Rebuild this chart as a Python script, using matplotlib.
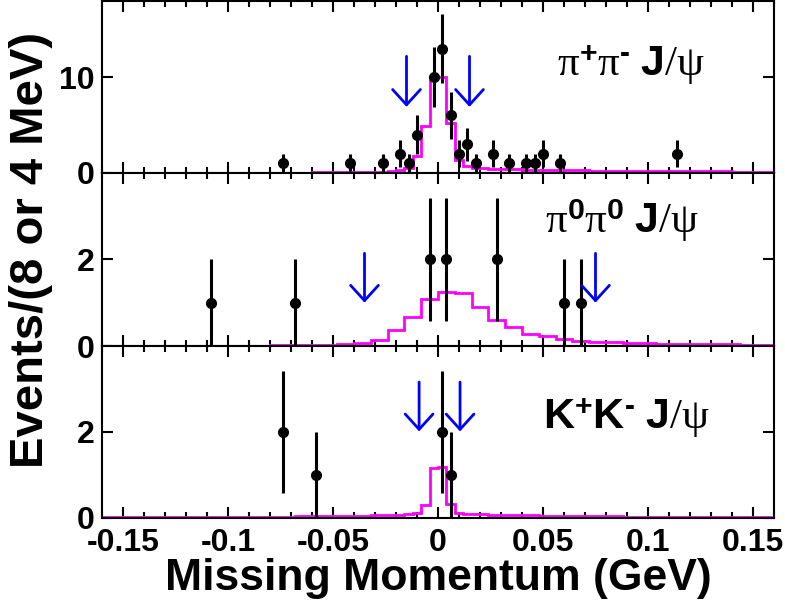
import numpy as np
import matplotlib
matplotlib.use("Agg")
import matplotlib.pyplot as plt
from matplotlib.ticker import MultipleLocator, FixedLocator, FixedFormatter

plt.rcParams['font.family'] = ['Liberation Sans', 'DejaVu Sans']
plt.rcParams['axes.unicode_minus'] = False
plt.rcParams['mathtext.fontset'] = 'custom'
plt.rcParams['mathtext.rm'] = 'Liberation Serif'
plt.rcParams['mathtext.it'] = 'Liberation Serif:italic'
plt.rcParams['mathtext.bf'] = 'Liberation Sans:bold'

# ---------------- data ----------------
x_ticks = [-0.15, -0.1, -0.05, 0, 0.05, 0.1, 0.15]
x_tick_labels = ["-0.15", "-0.1", "-0.05", "0", "0.05", "0.1", "0.15"]

# pi+ pi- J/psi (4 MeV bins)
pp_x = [-0.074, -0.042, -0.026, -0.018, -0.014, -0.010, -0.002, 0.002, 0.006, 0.010,
        0.014, 0.018, 0.026, 0.034, 0.042, 0.046, 0.050, 0.058, 0.114]
pp_y = [1, 1, 1, 2, 1, 4, 10, 13, 6, 2, 3, 1, 2, 1, 1, 1, 2, 1, 2]
pp_mc = [0, 0, 0, 0, 0, 0, 0, 0, 0, 0, 0, 0, 0, 0, 0,
         0.01, 0.01, 0.01, 0.01, 0.01, 0.01, 0.02, 0.02, 0.02, 0.02,
         0.03, 0.03, 0.04, 0.04, 0.05,
         0.06, 0.07, 0.08, 0.10, 0.15,
         0.25, 0.45, 1.7, 4.9, 10.0, 10.0, 5.2, 1.3, 0.7, 0.5,
         0.45, 0.42, 0.39, 0.36, 0.34, 0.32, 0.30, 0.29, 0.28, 0.27, 0.26, 0.25, 0.24, 0.23, 0.22,
         0.21, 0.20, 0.19, 0.19, 0.18, 0.17, 0.17, 0.16, 0.16, 0.15, 0.15, 0.14, 0.14, 0.13,
         0.13, 0.12, 0.12, 0.11, 0.11, 0.10]
pp_cut = [-0.015, 0.015]
pp_arrow_top, pp_arrow_tip = 12.2, 6.9

# pi0 pi0 J/psi (8 MeV bins)
p0_x = [-0.108, -0.068, -0.004, 0.004, 0.028, 0.060, 0.068]
p0_y = [1, 1, 2, 2, 2, 1, 1]
p0_mc = [0, 0, 0, 0, 0, 0, 0,
         0.005, 0.01, 0.01, 0.015, 0.02, 0.02, 0.03, 0.04,
         0.06, 0.15, 0.38, 0.67, 1.09, 1.24, 1.22, 0.91, 0.60, 0.44, 0.28, 0.23, 0.16,
         0.125, 0.09, 0.085, 0.07, 0.06, 0.055, 0.05, 0.045, 0.04, 0.035, 0.03, 0.03]
p0_cut = [-0.035, 0.075]
p0_arrow_top, p0_arrow_tip = 2.14, 1.0

# K+ K- J/psi (4 MeV bins)
kk_x = [-0.074, -0.058, 0.002, 0.006]
kk_y = [2, 1, 2, 1]
kk_mc = [0.005, 0.005, 0.005, 0.005, 0.005, 0.005, 0.005, 0.005, 0.005, 0.005, 0.005, 0.005, 0.005, 0.005, 0.005,
         0.01, 0.01, 0.015, 0.015, 0.02, 0.02, 0.025, 0.025, 0.03, 0.03,
         0.035, 0.035, 0.04, 0.04, 0.045,
         0.05, 0.05, 0.055, 0.06, 0.06,
         0.07, 0.08, 0.10, 0.30, 1.15, 1.18, 0.33, 0.12, 0.09, 0.08,
         0.075, 0.07, 0.07, 0.065, 0.06, 0.06, 0.055, 0.05, 0.05, 0.045, 0.04, 0.04, 0.035, 0.035, 0.03,
         0.03, 0.03, 0.025, 0.025, 0.02, 0.02, 0.02, 0.015, 0.015, 0.015,
         0.01, 0.01, 0.01, 0.01, 0.01, 0.005, 0.005, 0.005, 0.005, 0.005]
kk_cut = [-0.009, 0.0105]
kk_arrow_top, kk_arrow_tip = 3.16, 2.01

HY = "\u2010"  # short hyphen used as superscript minus
panels = [
    dict(x=pp_x, y=pp_y, mc=pp_mc, bw=0.004, ymax=18, yt=[0, 10], cut=pp_cut,
         atop=pp_arrow_top, atip=pp_arrow_tip,
         label=r"$\mathrm{\pi}^{\mathbf{+}}\mathrm{\pi}^{\mathbf{" + HY + r"}}\ \mathbf{J}\mathrm{/\psi}$",
         lx=0.677, ly=0.563),
    dict(x=p0_x, y=p0_y, mc=p0_mc, bw=0.008, ymax=4, yt=[0, 2], cut=p0_cut,
         atop=p0_arrow_top, atip=p0_arrow_tip,
         label=r"$\mathrm{\pi}^{\mathbf{0}}\mathrm{\pi}^{\mathbf{0}}\ \mathbf{J}\mathrm{/\psi}$",
         lx=0.659, ly=0.653),
    dict(x=kk_x, y=kk_y, mc=kk_mc, bw=0.004, ymax=4, yt=[0, 2], cut=kk_cut,
         atop=kk_arrow_top, atip=kk_arrow_tip,
         label=r"$\mathbf{K}^{\mathbf{+}}\mathbf{K}^{\mathbf{" + HY + r"}}\ \mathbf{J}\mathrm{/\psi}$",
         lx=0.656, ly=0.515),
]

# ---------------- figure ----------------
fig = plt.figure(figsize=(7.85, 6.0), dpi=100)
left, right = 102 / 785, 774 / 785
bounds = [(1, 172.7), (172.7, 346), (346, 517.7)]

for i, (p, (t, b)) in enumerate(zip(panels, bounds)):
    ax = fig.add_axes([left, 1 - b / 600, right - left, (b - t) / 600])
    n = int(round(0.32 / p['bw']))
    edges = -0.16 + p['bw'] * np.arange(n + 1)
    ax.stairs(p['mc'], edges, color='#ff00ff', lw=2.0, zorder=2)
    yv = np.array(p['y'], dtype=float)
    ax.errorbar(p['x'], yv, yerr=np.sqrt(yv), fmt='o', color='black', ms=7,
                elinewidth=2.2, capsize=0, zorder=3)
    for cx in p['cut']:
        ax.annotate('', xy=(cx, p['atip']), xytext=(cx, p['atop']),
                    arrowprops=dict(arrowstyle='->,head_length=1.1,head_width=1.0',
                                    color='#0000ff', lw=2.0, shrinkA=0, shrinkB=0,
                                    mutation_scale=10), zorder=4)
    ax.text(p['lx'], p['ly'], p['label'], transform=ax.transAxes, fontsize=31,
            ha='left', va='baseline')
    ax.set_xlim(-0.16, 0.16)
    ax.set_ylim(0, p['ymax'])
    ax.xaxis.set_major_locator(FixedLocator(x_ticks))
    ax.xaxis.set_minor_locator(MultipleLocator(0.01))
    ax.yaxis.set_major_locator(FixedLocator(p['yt']))
    ax.yaxis.set_major_formatter(FixedFormatter([str(v) for v in p['yt']]))
    if i == 2:
        ax.xaxis.set_major_formatter(FixedFormatter(x_tick_labels))
    else:
        ax.set_xticklabels([])
    ax.tick_params(axis='both', which='major', direction='in', top=True, right=True,
                   length=8, width=1.5, labelsize=23, pad=5)
    ax.tick_params(axis='x', which='minor', direction='in', top=True, bottom=True,
                   length=4.3, width=1.5)
    ax.tick_params(axis='x', which='major', pad=7.5)
    for s in ax.spines.values():
        s.set_linewidth(1.5)
    for lab in ax.get_xticklabels() + ax.get_yticklabels():
        lab.set_fontweight('bold')

fig.text(438 / 785, 1 - 590 / 600, "Missing Momentum (GeV)", fontsize=32,
         fontweight='bold', ha='center', va='baseline')
fig.text(31 / 785, 1 - 250 / 600, "Events/(8 or 4 MeV)", fontsize=34,
         fontweight='bold', ha='center', va='center', rotation=90)

fig.savefig("out.png", dpi=100)
